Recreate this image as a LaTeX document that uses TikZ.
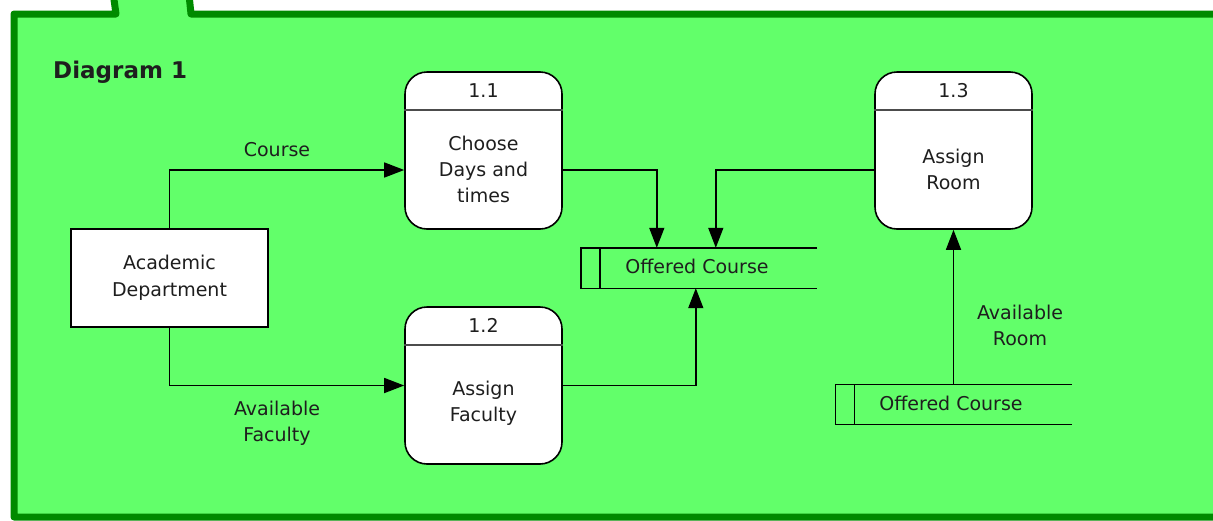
\documentclass[tikz,border=0pt]{standalone}
\usepackage{fontspec}
\setmainfont{DejaVu Sans}
\usetikzlibrary{arrows.meta,calc}
\definecolor{fg}{RGB}{98,255,106}
\definecolor{fb}{RGB}{0,138,0}
\definecolor{tx}{RGB}{30,30,30}
\begin{document}
\begin{tikzpicture}[x=1pt,y=-1pt,
  proc/.style={draw=black,line width=1.6pt,fill=white,rounded corners=22pt,minimum width=157pt,minimum height=157pt,inner sep=0pt},
  ent/.style={draw=black,line width=1.3pt,fill=white,minimum width=197pt,minimum height=98pt,inner sep=0pt,align=center,text=tx,font=\fontsize{19}{27}\selectfont},
  store/.style={minimum width=236pt,minimum height=40pt,inner sep=0pt,text=tx,font=\fontsize{19}{26}\selectfont},
  storeline/.style={draw=black,line width=1.4pt},
  txt/.style={align=center,text=tx,font=\fontsize{19}{26}\selectfont,inner sep=0pt},
  flow/.style={draw=black,line width=1.5pt,-{Triangle[length=20pt,width=15pt]}},
  ]
\useasboundingbox (0,0) rectangle (1213,520);
% frame
\begin{scope}
\clip (0,0) rectangle (1213,520);
\filldraw[fill=fg,draw=fb,line width=7pt,line join=round]
  (14,517) -- (14,14) -- (116,14) -- (112,-15) -- (188,-15) -- (191,14) -- (1230,14) -- (1230,517) -- cycle;
\end{scope}
\node[anchor=west,inner sep=0pt,text=tx,font=\fontsize{23}{28}\selectfont\bfseries] (title) at (53,72) {Diagram 1};

% entity
\node[ent] (ad) at (169.5,278) {Academic\\Department};

% processes
\node[proc] (p1) at (483.5,150.5) {};
\node[proc] (p2) at (483.5,385.5) {};
\node[proc] (p3) at (953.5,150.5) {};
\foreach \p/\n in {p1/1.1,p2/1.2,p3/1.3}{
  \draw[line width=1.6pt,black!70] ($(\p.north west)+(0,39)$) -- ($(\p.north east)+(0,39)$);
}
\node[txt] (n1) at ($(p1.north)+(0,19.5)$) {1.1};
\node[txt] (n2) at ($(p2.north)+(0,19.5)$) {1.2};
\node[txt] (n3) at ($(p3.north)+(0,19.5)$) {1.3};
\node[txt] (t1) at ($(p1.center)+(0,18.5)$) {Choose\\Days and\\times};
\node[txt] (t2) at ($(p2.center)+(0,18)$) {Assign\\Faculty};
\node[txt] (t3) at ($(p3.center)+(0,18.5)$) {Assign\\Room};

% stores
\node[store] (s1) at (699,268) {};
\node[txt] (s1t) at (697,266) {Offered Course};
\draw[storeline] (s1.north east) -- (s1.north west) -- (s1.south west) -- (s1.south east);
\draw[storeline] ($(s1.north west)+(19,0)$) -- ($(s1.south west)+(19,0)$);
\node[store] (s2) at (953.5,404.5) {};
\node[txt] (s2t) at (951,403) {Offered Course};
\draw[storeline] (s2.north east) -- (s2.north west) -- (s2.south west) -- (s2.south east);
\draw[storeline] ($(s2.north west)+(19,0)$) -- ($(s2.south west)+(19,0)$);

% flows
\coordinate (p1in) at ($(p1.west)+(0,19.5)$);
\coordinate (p1out) at ($(p1.east)+(0,19.5)$);
\coordinate (p3out) at ($(p3.west)+(0,19.5)$);
\draw[flow] (ad.north) |- (p1in);
\draw[flow] (ad.south) |- (p2.west);
\draw[flow] (p1out) -| ($(s1.north west)+(76,0)$);
\draw[flow] (p3out) -| ($(s1.north west)+(135,0)$);
\draw[flow] (p2.east) -| ($(s1.south west)+(115,0)$);
\draw[flow] (s2.north) -- (p3.south);

% labels
\node[txt] (l1) at (277,150) {Course};
\node[txt] (l2) at (277,423) {Available\\Faculty};
\node[txt] (l3) at (1020,325) {Available\\Room};
\end{tikzpicture}
\end{document}
